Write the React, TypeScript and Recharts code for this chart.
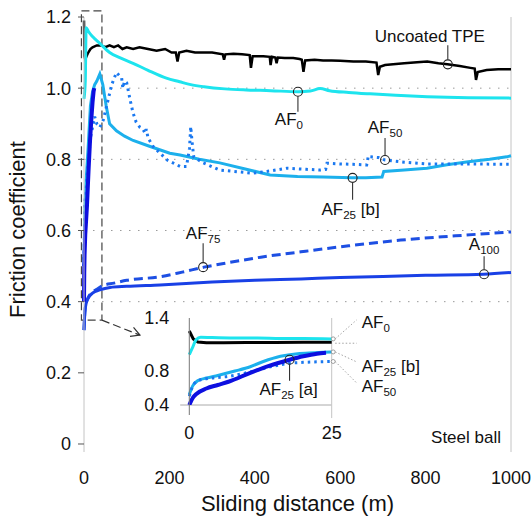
import React from "react";
import { LineChart, Line, XAxis, YAxis, ReferenceLine, ReferenceDot, ReferenceArea } from "recharts";

type Pt = [number, number];

const FONT = "'Liberation Sans', Arial, Helvetica, sans-serif";

// axes
const xTicks = [0, 200, 400, 600, 800, 1000];
const yTicks = [0, 0.2, 0.4, 0.6, 0.8, 1.0, 1.2];
const gridLevels = [0.4, 0.6, 0.8, 1.0];
const insetXTicks = [0, 25];
const insetYTicks = [0.4, 0.8, 1.4];

// main series: [sliding distance (m), friction coefficient]
const uncoatedTPE: Pt[] = [
  [0, 1.19], [1, 1.09], [3, 1.08], [6, 1.09], [10, 1.1], [15, 1.11], [20, 1.115], [30, 1.12], [40, 1.12],
  [50, 1.115], [60, 1.12], [70, 1.115], [80, 1.12], [90, 1.11], [100, 1.115], [115, 1.11], [130, 1.115],
  [150, 1.11], [170, 1.105], [190, 1.11], [205, 1.1], [215, 1.1], [219, 1.075], [223, 1.1], [240, 1.105],
  [260, 1.1], [281, 1.1], [300, 1.1], [325, 1.095], [328, 1.08], [331, 1.095], [350, 1.097], [370, 1.095],
  [388, 1.093], [391, 1.057], [395, 1.09], [420, 1.09], [435, 1.088], [437, 1.065], [440, 1.088],
  [448, 1.086], [451, 1.07], [454, 1.086], [470, 1.085], [490, 1.085], [505, 1.082], [510, 1.08],
  [514, 1.046], [518, 1.078], [540, 1.08], [560, 1.078], [580, 1.078], [600, 1.077], [631, 1.075],
  [660, 1.075], [685, 1.072], [689, 1.037], [693, 1.06], [705, 1.065], [724, 1.067], [750, 1.07],
  [780, 1.073], [804, 1.075], [830, 1.07], [851, 1.067], [880, 1.062], [905, 1.057], [915, 1.055],
  [918, 1.023], [922, 1.045], [943, 1.051], [970, 1.053], [1000, 1.053],
];
const af0: Pt[] = [
  [0, 0.97], [3, 1.02], [5, 1.17], [10, 1.16], [20, 1.145], [37, 1.126], [60, 1.1], [85, 1.085], [115, 1.07],
  [150, 1.05], [193, 1.028], [224, 1.018], [250, 1.01], [281, 1.004], [330, 0.998], [380, 0.995],
  [437, 0.993], [502, 0.99], [530, 0.992], [553, 0.999], [575, 0.993], [620, 0.988], [670, 0.984],
  [730, 0.98], [804, 0.976], [900, 0.973], [1000, 0.972],
];
const af25b: Pt[] = [
  [0, 0.5], [2, 0.66], [5, 0.74], [10, 0.84], [15, 0.95], [20, 0.99], [25, 1.01], [30, 1.02], [37, 1.04],
  [44, 1.01], [52, 0.95], [60, 0.9], [76, 0.88], [95, 0.865], [115, 0.853], [155, 0.836], [201, 0.817],
  [225, 0.812], [270, 0.8], [318, 0.79], [380, 0.772], [436, 0.756], [500, 0.752], [560, 0.75],
  [627, 0.748], [660, 0.748], [698, 0.75], [702, 0.766], [750, 0.77], [803, 0.775], [850, 0.785],
  [900, 0.793], [950, 0.8], [990, 0.807], [1000, 0.81],
];
const af50: Pt[] = [
  [0, 0.5], [2, 0.68], [5, 0.72], [10, 0.79], [15, 0.86], [20, 0.89], [25, 0.92], [30, 0.9], [37, 0.89],
  [45, 0.91], [55, 0.96], [65, 1.01], [76, 1.044], [83, 1.035], [88, 1.03], [91, 1.0], [95, 1.02],
  [100, 1.015], [108, 0.967], [115, 0.93], [122, 0.905], [131, 0.89], [138, 0.885], [143, 0.873],
  [146, 0.885], [150, 0.86], [162, 0.836], [180, 0.815], [195, 0.798], [225, 0.78], [240, 0.78],
  [247, 0.83], [250, 0.892], [253, 0.85], [257, 0.807], [279, 0.79], [318, 0.77], [360, 0.765],
  [396, 0.761], [440, 0.768], [475, 0.775], [520, 0.772], [553, 0.77], [566, 0.772], [569, 0.789],
  [600, 0.787], [630, 0.786], [662, 0.784], [666, 0.81], [670, 0.807], [690, 0.805], [705, 0.798],
  [750, 0.792], [803, 0.787], [900, 0.787], [1000, 0.786],
];
const af75: Pt[] = [
  [0, 0.32], [2, 0.37], [5, 0.395], [10, 0.412], [20, 0.427], [30, 0.435], [44, 0.445], [70, 0.452],
  [100, 0.46], [178, 0.47], [230, 0.483], [281, 0.497], [340, 0.51], [414, 0.525], [508, 0.54],
  [620, 0.557], [742, 0.573], [870, 0.585], [1000, 0.596],
];
const a100: Pt[] = [
  [0, 0.32], [2, 0.37], [5, 0.395], [10, 0.41], [20, 0.424], [37, 0.433], [61, 0.44], [100, 0.443],
  [178, 0.447], [300, 0.455], [400, 0.46], [508, 0.464], [600, 0.468], [700, 0.471], [800, 0.474],
  [935, 0.477], [1000, 0.482],
];
const af25a: Pt[] = [
  [0, 0.4], [0.6, 0.48], [1.3, 0.53], [3, 0.59], [5, 0.63], [7, 0.67], [10.7, 0.77], [14, 0.85],
  [17.6, 0.92], [20, 0.96], [22.4, 0.99], [24, 1.0],
];

// inset series (first 25 m)
const insetTPE: Pt[] = [
  [0, 1.25], [0.7, 1.16], [1.5, 1.125], [3, 1.115], [6, 1.115], [10, 1.118], [15, 1.118], [20, 1.12], [25, 1.12],
];
const insetAF0: Pt[] = [
  [0, 0.98], [0.5, 1.05], [1.2, 1.15], [2, 1.18], [4, 1.175], [8, 1.17], [12, 1.17], [16, 1.165], [20, 1.165], [25, 1.16],
];
const insetAF25b: Pt[] = [
  [0, 0.52], [0.6, 0.62], [1.5, 0.68], [3, 0.71], [5, 0.74], [8, 0.79], [10.7, 0.84], [13, 0.9],
  [16, 0.96], [19, 0.99], [22, 1.0], [25, 1.01],
];
const insetAF50: Pt[] = [
  [0, 0.5], [0.8, 0.64], [2, 0.69], [4, 0.71], [7, 0.73], [10, 0.77], [12.5, 0.81], [15, 0.85],
  [17.6, 0.88], [20, 0.89], [25, 0.9],
];

const C = {
  tpe: "#000000",
  af0: "#1de4ee",
  af25b: "#1cb0ec",
  af50: "#1a78f0",
  af75: "#1d4fe3",
  a100: "#1940e6",
  af25a: "#0d0fe0",
};

const rows = (pts: Pt[]) => pts.map(([x, y]) => ({ x, y }));

function SubLabel({ x, y, base, sub, tail, anchor = "middle", size = 17 }: any) {
  return (
    <text x={x} y={y} textAnchor={anchor} fontSize={size} fontFamily={FONT} fill="#111">
      <tspan>{base}</tspan>
      {sub && (
        <tspan fontSize={size * 0.68} dy={4}>
          {sub}
        </tspan>
      )}
      {tail && <tspan dy={-4}>{tail}</tspan>}
    </text>
  );
}

// circle on the curve + vertical leader + label
const callout = (o: { dx: number; lead: number; ty: number; base: string; sub?: string; tail?: string }) => (p: any) => {
  const { cx, cy } = p;
  const r = 4.5;
  const dir = o.lead < 0 ? -1 : 1;
  return (
    <g>
      <circle cx={cx} cy={cy} r={r} fill="none" stroke="#222" strokeWidth={1.1} />
      <line x1={cx} y1={cy + dir * r} x2={cx} y2={cy + o.lead} stroke="#333" strokeWidth={1.1} />
      <SubLabel x={cx + o.dx} y={cy + o.ty} base={o.base} sub={o.sub} tail={o.tail} />
    </g>
  );
};

// small end circle + dotted leader to a label on the right of the inset
const endTag = (o: { dy: number; ty: number; base?: string; sub?: string; tail?: string; dot?: boolean }) => (p: any) => {
  const { cx, cy } = p;
  return (
    <g>
      {o.dot !== false && <circle cx={cx + 1.5} cy={cy} r={2} fill="#fff" stroke="#888" strokeWidth={0.8} />}
      <line x1={cx + 3.5} y1={cy} x2={cx + 25} y2={cy + o.dy} stroke="#999" strokeWidth={0.9} strokeDasharray="1.5 2" />
      {o.base && <SubLabel x={cx + 30} y={cy + o.ty} base={o.base} sub={o.sub} tail={o.tail} anchor="start" />}
    </g>
  );
};

const arrowShape = (p: any) => {
  const { x1, y1, x2, y2 } = p;
  const a = Math.atan2(y2 - y1, x2 - x1);
  const L = 10;
  const h1 = [x2 - L * Math.cos(a - 0.5), y2 - L * Math.sin(a - 0.5)];
  const h2 = [x2 - L * Math.cos(a + 0.5), y2 - L * Math.sin(a + 0.5)];
  return (
    <g>
      <line x1={x1} y1={y1} x2={x2} y2={y2} stroke="#333" strokeWidth={1.2} strokeDasharray="8 4" />
      <polyline points={`${h1[0]},${h1[1]} ${x2},${y2} ${h2[0]},${h2[1]}`} fill="none" stroke="#333" strokeWidth={1.2} />
    </g>
  );
};

const tickStyle = { fontSize: 18, fill: "#111", fontFamily: FONT };

export default function App() {
  return (
    <div style={{ position: "absolute", left: 0, top: 0, width: 532, height: 519, background: "#fff" }}>
      <LineChart width={532} height={519} margin={{ top: 17, right: 21, bottom: 0, left: 0 }}>
        <XAxis
          type="number"
          dataKey="x"
          domain={[0, 1000]}
          ticks={xTicks}
          axisLine={false}
          tickLine={false}
          tickMargin={13}
          height={67}
          tick={tickStyle}
          label={{
            content: (p: any) => (
              <text x={p.viewBox.x + p.viewBox.width / 2} y={p.viewBox.y + 59} textAnchor="middle" fontSize={22} fontFamily={FONT} fill="#111">
                Sliding distance (m)
              </text>
            ),
          }}
        />
        <YAxis
          type="number"
          domain={[-0.0225, 1.2]}
          allowDataOverflow
          ticks={yTicks}
          width={84}
          axisLine={{ stroke: "#c4c4c4" }}
          tickLine={{ stroke: "#555" }}
          tickSize={6}
          tickMargin={7}
          tick={tickStyle}
          tickFormatter={(v: number) => (v === 0 ? "0" : v.toFixed(1))}
          label={{
            content: (p: any) => (
              <text
                transform={`translate(25, ${p.viewBox.y + p.viewBox.height / 2 - 5}) rotate(-90)`}
                textAnchor="middle"
                fontSize={22}
                fontFamily={FONT}
                fill="#111"
              >
                Friction coefficient
              </text>
            ),
          }}
        />

        {gridLevels.map((g) => (
          <ReferenceLine key={g} y={g} stroke="#9a9a9a" strokeWidth={1} strokeDasharray="1.5 7.5" />
        ))}
        <ReferenceLine x={1000} stroke="#c4c4c4" strokeWidth={1} />

        <Line data={rows(uncoatedTPE)} dataKey="y" type="linear" stroke={C.tpe} strokeWidth={2.5} dot={false} activeDot={false} isAnimationActive={false} />
        <Line data={rows(af0)} dataKey="y" type="monotone" stroke={C.af0} strokeWidth={3} dot={false} activeDot={false} isAnimationActive={false} />
        <Line data={rows(af25b)} dataKey="y" type="linear" stroke={C.af25b} strokeWidth={3} dot={false} activeDot={false} isAnimationActive={false} />
        <Line data={rows(af50)} dataKey="y" type="linear" stroke={C.af50} strokeWidth={3} strokeDasharray="2.5 4" dot={false} activeDot={false} isAnimationActive={false} />
        <Line data={rows(af75)} dataKey="y" type="monotone" stroke={C.af75} strokeWidth={3} strokeDasharray="9 5" dot={false} activeDot={false} isAnimationActive={false} />
        <Line data={rows(a100)} dataKey="y" type="monotone" stroke={C.a100} strokeWidth={3} dot={false} activeDot={false} isAnimationActive={false} />
        <Line data={rows(af25a)} dataKey="y" type="linear" stroke={C.af25a} strokeWidth={4} dot={false} activeDot={false} isAnimationActive={false} />

        <ReferenceArea x1={-6} x2={42} y1={0.348} y2={1.217} ifOverflow="visible" fill="none" stroke="#444" strokeWidth={1.2} strokeDasharray="8 4" />
        <ReferenceLine segment={[{ x: 42, y: 0.348 }, { x: 131, y: 0.306 }]} ifOverflow="visible" shape={arrowShape} />

        <ReferenceDot x={852} y={1.067} ifOverflow="visible" shape={callout({ dx: -18, lead: -19, ty: -22, base: "Uncoated TPE" })} />
        <ReferenceDot x={501} y={0.99} ifOverflow="visible" shape={callout({ dx: -9, lead: 20, ty: 33, base: "AF", sub: "0" })} />
        <ReferenceDot x={629} y={0.748} ifOverflow="visible" shape={callout({ dx: -2, lead: 22, ty: 37, base: "AF", sub: "25", tail: " [b]" })} />
        <ReferenceDot x={705} y={0.798} ifOverflow="visible" shape={callout({ dx: 0, lead: -22, ty: -27, base: "AF", sub: "50" })} />
        <ReferenceDot x={279} y={0.497} ifOverflow="visible" shape={callout({ dx: 0, lead: -24, ty: -28, base: "AF", sub: "75" })} />
        <ReferenceDot x={937} y={0.477} ifOverflow="visible" shape={callout({ dx: 0, lead: -18, ty: -24, base: "A", sub: "100" })} />
        <ReferenceDot
          x={1000}
          y={0}
          ifOverflow="visible"
          shape={(p: any) => (
            <text x={p.cx - 10} y={p.cy - 1} textAnchor="end" fontSize={17} fontFamily={FONT} fill="#111">
              Steel ball
            </text>
          )}
        />
      </LineChart>

      <div style={{ position: "absolute", left: 100, top: 300 }}>
        <LineChart width={340} height={150} margin={{ top: 18, right: 108.3, bottom: 0, left: 50 }}>
          <XAxis type="number" dataKey="x" domain={[0, 25]} ticks={insetXTicks} height={45} axisLine={false} tickLine={false} tickMargin={15} tick={tickStyle} />
          <YAxis
            type="number"
            domain={[0.4, 1.4]}
            allowDataOverflow
            ticks={insetYTicks}
            width={39.3}
            axisLine={{ stroke: "#777" }}
            tickLine={false}
            tickMargin={14}
            tick={tickStyle}
            tickFormatter={(v: number) => v.toFixed(1)}
          />
          <ReferenceLine segment={[{ x: -1.6, y: 0.4 }, { x: 25, y: 0.4 }]} ifOverflow="visible" stroke="#aaa" />
          <ReferenceLine segment={[{ x: 25, y: 1.4 }, { x: 25, y: 0.25 }]} ifOverflow="visible" stroke="#c4c4c4" />
          <ReferenceLine segment={[{ x: 0, y: 0.4 }, { x: 0, y: 0.285 }]} ifOverflow="visible" stroke="#777" />

          <Line data={rows(insetTPE)} dataKey="y" type="linear" stroke={C.tpe} strokeWidth={3} dot={false} activeDot={false} isAnimationActive={false} />
          <Line data={rows(insetAF0)} dataKey="y" type="monotone" stroke={C.af0} strokeWidth={3} dot={false} activeDot={false} isAnimationActive={false} />
          <Line data={rows(insetAF25b)} dataKey="y" type="monotone" stroke={C.af25b} strokeWidth={3} dot={false} activeDot={false} isAnimationActive={false} />
          <Line data={rows(insetAF50)} dataKey="y" type="monotone" stroke={C.af50} strokeWidth={3} strokeDasharray="2.5 4" dot={false} activeDot={false} isAnimationActive={false} />
          <Line data={rows(af25a)} dataKey="y" type="monotone" stroke={C.af25a} strokeWidth={4} dot={false} activeDot={false} isAnimationActive={false} />

          <ReferenceDot x={17.6} y={0.92} ifOverflow="visible" shape={callout({ dx: -1, lead: 21, ty: 35, base: "AF", sub: "25", tail: " [a]" })} />
          <ReferenceDot x={25} y={1.16} ifOverflow="visible" shape={endTag({ dy: -19, ty: -11, base: "AF", sub: "0" })} />
          <ReferenceDot x={25} y={1.11} ifOverflow="visible" shape={endTag({ dy: 0, ty: 0, dot: false })} />
          <ReferenceDot x={25} y={1.01} ifOverflow="visible" shape={endTag({ dy: 10, ty: 20, base: "AF", sub: "25", tail: " [b]" })} />
          <ReferenceDot x={25} y={0.9} ifOverflow="visible" shape={endTag({ dy: 21.5, ty: 30, base: "AF", sub: "50" })} />
        </LineChart>
      </div>
    </div>
  );
}
